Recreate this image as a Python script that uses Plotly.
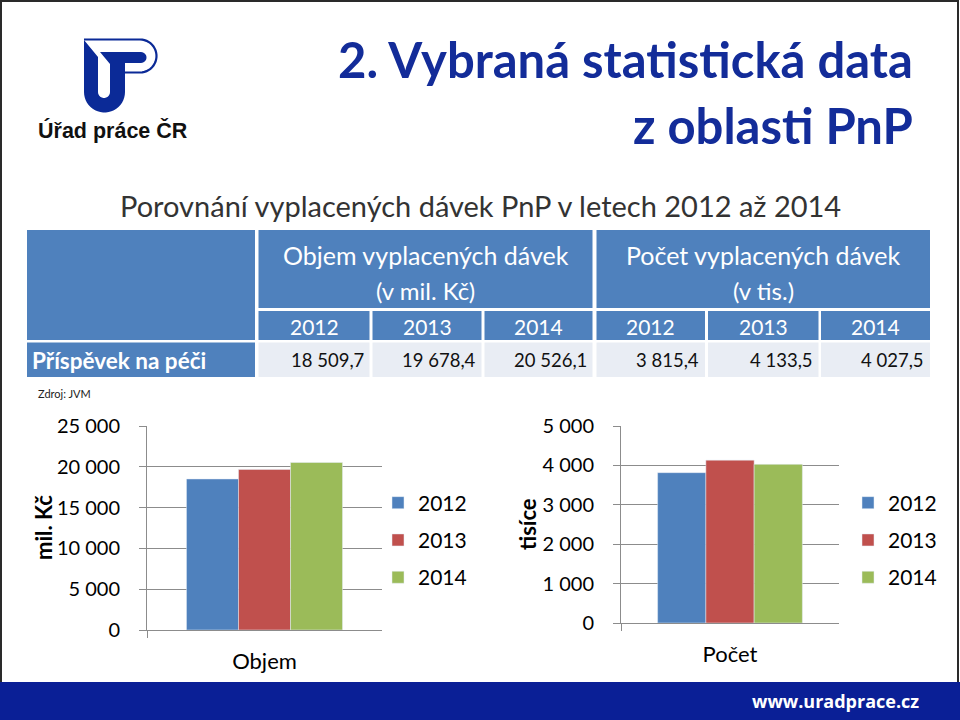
import numpy as np
import plotly.graph_objects as go

# ---------------- data ----------------
years = ["2012", "2013", "2014"]
objem = [18509.7, 19678.4, 20526.1]   # mil. Kč
pocet = [3815.4, 4133.5, 4027.5]      # tis.
cat_left = ["Objem"]
cat_right = ["Počet"]
row_label = "Příspěvek na péči"
group_titles = ["Objem vyplacených dávek", "Počet vyplacených dávek"]
group_units = ["(v mil. Kč)", "(v tis.)"]
y_titles = ["mil. Kč", "tisíce"]
colors = ["#4F81BD", "#C0504D", "#9BBB59"]

FONT = "Lato, 'Open Sans', sans-serif"
ARIAL = "'Liberation Sans', Arial, sans-serif"
NAVY = "#0B2A97"
TBLUE = "#4F81BD"
GRID = "#8C8C8C"


def cz(v):
    return f"{v:,.1f}".replace(",", " ").replace(".", ",")


def arc(cx, cy, r, a0, a1, n=14):
    a = np.radians(np.linspace(a0, a1, n))
    return list(zip(cx + r * np.cos(a), cy + r * np.sin(a)))


def path(pts, close=True):
    s = "M " + " L ".join(f"{x:.2f},{y:.2f}" for x, y in pts)
    return s + (" Z" if close else "")


fig = go.Figure()

# ---------------- bars ----------------
for i, yr in enumerate(years):
    fig.add_trace(go.Bar(x=cat_left, y=[objem[i]], name=yr, marker_color=colors[i],
                         xaxis="x", yaxis="y", legend="legend",
                         legendgroup="L" + yr, hoverinfo="skip"))
for i, yr in enumerate(years):
    fig.add_trace(go.Bar(x=cat_right, y=[pocet[i]], name=yr, marker_color=colors[i],
                         xaxis="x2", yaxis="y2", legend="legend2",
                         legendgroup="R" + yr, hoverinfo="skip"))
# overlay pixel-space axis for decorations
fig.add_trace(go.Scatter(x=[None], y=[None], xaxis="x3", yaxis="y3",
                         showlegend=False, hoverinfo="skip"))

shapes = []
ann = []


def rect(x0, y0, x1, y1, fill, line=None, lw=0):
    shapes.append(dict(type="rect", xref="x3", yref="y3", x0=x0, y0=y0, x1=x1, y1=y1,
                       fillcolor=fill, line=dict(width=lw, color=line or fill),
                       layer="above"))


def text(x, y, t, size, color="#000", xanchor="center", bold=False, family=FONT,
         angle=0, weight=None):
    if bold:
        t = "<b>" + t + "</b>"
    f = dict(size=size, color=color, family=family)
    if weight:
        f["weight"] = weight
    ann.append(dict(x=x, y=y, xref="x3", yref="y3", text=t, showarrow=False,
                    xanchor=xanchor, yanchor="middle", textangle=angle, font=f))


# slide border and footer
shapes.append(dict(type="rect", xref="x3", yref="y3", x0=1, y0=1, x1=958, y1=719,
                   line=dict(color="#2a2a2a", width=2), fillcolor="rgba(0,0,0,0)",
                   layer="above"))
rect(0, 682, 960, 720, "#0A1F96")
text(921, 701, "www.uradprace.cz", 18, "white", xanchor="right",
     family="'Open Sans', sans-serif", weight=700)

# logo
left_piece = [(84, 40), (98, 57), (98, 92)] + arc(104, 92, 6, 180, 0) + \
             [(110, 64), (100, 52), (141, 52)] + arc(141, 57.5, 5.5, -90, 90) + \
             [(125, 63), (125, 92)] + arc(104.5, 92, 20.5, 0, 180, 24)
shapes.append(dict(type="path", xref="x3", yref="y3", path=path(left_piece),
                   fillcolor=NAVY, line=dict(width=0), layer="above"))
bowl = [(84, 39.5), (140, 39.5)] + arc(140, 56, 16.5, -90, 90, 24) + [(125, 72.5)]
shapes.append(dict(type="path", xref="x3", yref="y3", path=path(bowl, close=False),
                   line=dict(color=NAVY, width=2.2), layer="above"))
text(113, 130, "Úřad práce ČR", 21.5, "#111", bold=True, family=ARIAL)

# titles
TCOL = "#132C99"
text(915, 59, "2. Vybraná statistická data", 49, TCOL, xanchor="right", bold=True)
text(915, 125, "z oblasti PnP", 49, TCOL, xanchor="right", bold=True)
text(118, 205, "Porovnání vyplacených dávek PnP v letech 2012 až 2014", 29, "#333",
     xanchor="left")

# ---------------- table ----------------
rect(27, 230, 255, 340, TBLUE)
group_x = [(258.5, 592.5), (596.5, 930)]
for (x0, x1), gt, gu in zip(group_x, group_titles, group_units):
    rect(x0, 230, x1, 308, TBLUE)
    text((x0 + x1) / 2, 255, gt, 25, "white")
    text((x0 + x1) / 2, 290, gu, 24, "white")
year_x = [(258.5, 369.5), (372.5, 481.5), (484.5, 592.5),
          (596.5, 705), (708, 818.5), (821, 930)]
values = objem + pocet
for k, (x0, x1) in enumerate(year_x):
    rect(x0, 311, x1, 340, TBLUE)
    text((x0 + x1) / 2, 326, years[k % 3], 21, "white")
    rect(x0, 342.5, x1, 377, "#E9EDF4")
    text(x1 - 4, 360, cz(values[k]), 18.5, "#111", xanchor="right")
rect(27, 342.5, 255, 377, TBLUE)
text(30, 360, row_label, 22.5, "white", xanchor="left", bold=True)
text(36, 393, "Zdroj: JVM", 11, "#222", xanchor="left")

# axis titles
text(43, 528, y_titles[0], 22, "#000", bold=True, angle=-90)
text(527, 524, y_titles[1], 22, "#000", bold=True, angle=-90)

H = 720.0
W = 960.0


def yd(top, bot):
    return [1 - bot / H, 1 - top / H]


common_x = dict(showline=True, linecolor=GRID, linewidth=1, ticks="outside", ticklen=7,
                tickcolor=GRID, tickson="boundaries", showgrid=False,
                tickfont=dict(size=22, color="#000", family=FONT), ticklabelstandoff=12,
                fixedrange=True)
common_y = dict(showline=True, linecolor=GRID, linewidth=1, ticks="outside", ticklen=7,
                tickcolor=GRID, showgrid=True, gridcolor=GRID, gridwidth=1,
                zeroline=False, tickformat=",", tick0=0,
                tickfont=dict(size=20, color="#000", family=FONT), ticklabelstandoff=15,
                fixedrange=True)

leg = dict(xanchor="left", yanchor="middle", y=1 - 540 / H, font=dict(size=21, family=FONT,
           color="#000"), bgcolor="rgba(0,0,0,0)", tracegroupgap=7, traceorder="grouped",
           itemclick=False, itemdoubleclick=False)

fig.update_layout(
    width=960, height=720, margin=dict(l=0, r=0, t=0, b=0, pad=0, autoexpand=False),
    paper_bgcolor="white", plot_bgcolor="rgba(0,0,0,0)",
    barmode="group", bargap=0.336, bargroupgap=0,
    separators=", ",
    font=dict(family=FONT),
    xaxis=dict(domain=[147 / W, 382 / W], anchor="y", **common_x),
    yaxis=dict(domain=yd(426, 630), anchor="x", range=[0, 25000], dtick=5000, **common_y),
    xaxis2=dict(domain=[621 / W, 839 / W], anchor="y2", **common_x),
    yaxis2=dict(domain=yd(426, 623), anchor="x2", range=[0, 5000], dtick=1000, **common_y),
    xaxis3=dict(domain=[0, 1], anchor="y3", range=[0, 960], visible=False, fixedrange=True),
    yaxis3=dict(domain=[0, 1], anchor="x3", range=[720, 0], visible=False, fixedrange=True),
    legend=dict(x=378 / W, **leg),
    legend2=dict(x=848 / W, **leg),
    shapes=shapes,
    annotations=ann,
    showlegend=True,
)

fig.write_html("out.html")
